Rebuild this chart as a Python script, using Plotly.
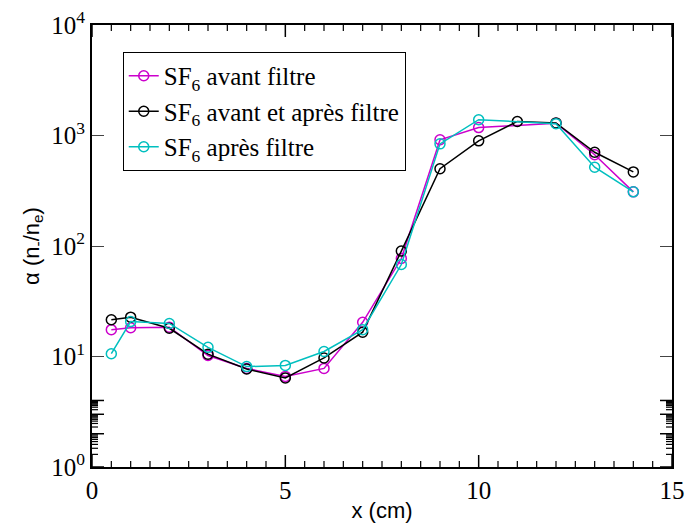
import math
import plotly.graph_objects as go

x_avant = [0.5, 1, 2, 3, 4, 5, 6, 7, 8, 9, 10, 12, 13, 14]
y_avant = [17.5, 18.2, 18.4, 10.2, 7.8, 6.6, 7.8, 20.4, 77, 915, 1180, 1290, 670, 309]

x_both = [0.5, 1, 2, 3, 4, 5, 6, 7, 8, 9, 10, 11, 12, 13, 14]
y_both = [21.5, 22.7, 18.0, 10.5, 7.7, 6.4, 9.7, 16.6, 90, 500, 895, 1340, 1300, 705, 468]

x_apres = [0.5, 1, 2, 3, 4, 5, 6, 7, 8, 9, 10, 12, 13, 14]
y_apres = [10.6, 20.7, 19.9, 12.1, 8.1, 8.3, 11.1, 17.5, 68, 840, 1390, 1280, 516, 309]

names = ["SF<sub>6</sub> avant filtre",
         "SF<sub>6</sub> avant et après filtre",
         "SF<sub>6</sub> après filtre"]
colors = ["#cc00cc", "#000000", "#00bfbf"]

x_major = [0, 5, 10, 15]
x_minor = [i * 0.5 for i in range(31) if (i * 0.5) % 5 != 0]
y_major = [1, 10, 100, 1000, 10000]
y_major_text = ["10<sup>0</sup>", "10<sup>1</sup>", "10<sup>2</sup>", "10<sup>3</sup>", "10<sup>4</sup>"]
y_minor = [m * d for d in [1, 10, 100, 1000] for m in range(2, 10)]

fig = go.Figure()
for i, (xs, ys, nm, c) in enumerate([(x_avant, y_avant, names[0], colors[0]),
                                     (x_both, y_both, names[1], colors[1]),
                                     (x_apres, y_apres, names[2], colors[2])]):
    fig.add_trace(go.Scatter(
        x=xs, y=ys, name=nm, mode="lines+markers",
        line=dict(color=c, width=1.5),
        marker=dict(symbol="circle-open", size=10, color=c, line=dict(width=1.5, color=c)),
    ))

# inward tick marks on all four sides, placed through the axes' own data scales
shapes = []
for vals, ln, w in [(x_major, 12, 1.5), (x_minor, 6, 1.2)]:
    for v in vals:
        shapes.append(dict(type="line", xref="x", yref="paper", ysizemode="pixel",
                           yanchor=0, x0=v, x1=v, y0=0, y1=ln,
                           line=dict(color="black", width=w)))
        shapes.append(dict(type="line", xref="x", yref="paper", ysizemode="pixel",
                           yanchor=1, x0=v, x1=v, y0=0, y1=-ln,
                           line=dict(color="black", width=w)))
for vals, ln, w in [(y_major, 12, 1.5), (y_minor, 6, 1.2)]:
    for v in vals:
        lv = math.log10(v)
        shapes.append(dict(type="line", xref="paper", yref="y", xsizemode="pixel",
                           xanchor=0, x0=0, x1=ln, y0=lv, y1=lv,
                           line=dict(color="black", width=w)))
        shapes.append(dict(type="line", xref="paper", yref="y", xsizemode="pixel",
                           xanchor=1, x0=0, x1=-ln, y0=lv, y1=lv,
                           line=dict(color="black", width=w)))

serif = "Liberation Serif"
sans = "Liberation Sans"

fig.update_layout(
    width=688, height=523,
    margin=dict(l=92, r=16, t=25, b=56),
    plot_bgcolor="white",
    shapes=shapes,
    legend=dict(
        x=0.053, y=0.939, xanchor="left", yanchor="top",
        bordercolor="black", borderwidth=1, bgcolor="white",
        font=dict(family=serif, size=25, color="black"),
    ),
    xaxis=dict(
        range=[0, 15], tick0=0, dtick=5, automargin=False,
        ticks="inside", ticklen=12,
        showline=True, linecolor="black", linewidth=2, mirror="ticks",
        showgrid=False, zeroline=False, ticklabeloverflow="allow",
        tickfont=dict(family=serif, size=25, color="black"),
        title=dict(text="x (cm)", font=dict(family=sans, size=22, color="black"), standoff=4),
    ),
    yaxis=dict(
        type="log", range=[0, 4], tickmode="array", tickvals=y_major, ticktext=y_major_text,
        automargin=False,
        ticks="inside", ticklen=12,
        showline=True, linecolor="black", linewidth=2, mirror="ticks",
        showgrid=False, zeroline=False, ticklabeloverflow="allow",
        tickfont=dict(family=serif, size=25, color="black"),
        title=dict(text="α (n<sub>-</sub>/n<sub>e</sub>)", font=dict(family=sans, size=22, color="black"), standoff=6),
    ),
)

fig.write_html("out.html", config={"displayModeBar": False},
               post_script="document.body.style.margin='0px';")
